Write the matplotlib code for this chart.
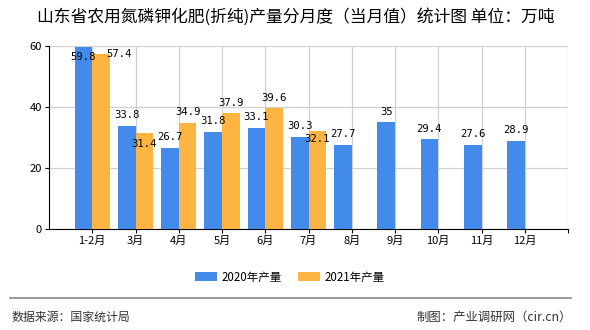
import matplotlib
matplotlib.use("Agg")
import matplotlib.pyplot as plt
import numpy as np

plt.rcParams['font.family'] = ['Noto Sans CJK SC', 'DejaVu Sans']

months = ["1-2月", "3月", "4月", "5月", "6月", "7月", "8月", "9月", "10月", "11月", "12月"]
v2020 = [59.8, 33.8, 26.7, 31.8, 33.1, 30.3, 27.7, 35, 29.4, 27.6, 28.9]
v2021 = [57.4, 31.4, 34.9, 37.9, 39.6, 32.1]
labels2020 = ["59.8", "33.8", "26.7", "31.8", "33.1", "30.3", "27.7", "35", "29.4", "27.6", "28.9"]
labels2021 = ["57.4", "31.4", "34.9", "37.9", "39.6", "32.1"]

# label nudges (points) where the original moved labels to avoid overlap
dy2020 = [-11, 4, 4, 4, 4, 4, 4, 4, 4, 4, 4]
dy2021 = [-4, -11, 4, 4, 4, -9]
dx2021 = [13, 0, 0, 0, 0, 0]

blue = "#428bea"
orange = "#fdb443"

fig = plt.figure(figsize=(5.9, 3.3), dpi=100)
ax = fig.add_axes([49 / 590, 1 - 229 / 330, 519 / 590, 183 / 330])

x = np.arange(len(months))
w = 0.41
ax.bar(x[:len(v2020)] - w / 2, v2020, w, color=blue, label="2020年产量", zorder=3)
ax.bar(x[:len(v2021)] + w / 2, v2021, w, color=orange, label="2021年产量", zorder=3)

for i, v in enumerate(v2020):
    ax.annotate(labels2020[i], (x[i] - w / 2, v), xytext=(0, dy2020[i]), textcoords="offset points",
                ha="center", va="bottom", fontsize=7.6, family=["DejaVu Sans Mono"], zorder=4)
for i, v in enumerate(v2021):
    ax.annotate(labels2021[i], (x[i] + w / 2, v), xytext=(dx2021[i], dy2021[i]), textcoords="offset points",
                ha="center", va="bottom", fontsize=7.6, family=["DejaVu Sans Mono"], zorder=4)

ax.set_xlim(-1, 11)
ax.set_ylim(0, 60)
ax.set_yticks([0, 20, 40, 60])
ax.set_xticks(list(x) + [11])
ax.set_xticklabels(months + [""])
ax.tick_params(axis="both", labelsize=8, length=3, color="black", pad=2)
ax.grid(True, color="#d0d0d0", linewidth=0.9, zorder=0)
for s in ["top", "right"]:
    ax.spines[s].set_visible(False)
ax.spines["left"].set_color("black")
ax.spines["bottom"].set_color("black")

fig.text(37 / 590, 1 - 17 / 330, "山东省农用氮磷钾化肥(折纯)产量分月度（当月值）统计图 单位：万吨",
         fontsize=12.1, ha="left", va="center")

fig.legend(loc="center", bbox_to_anchor=(290 / 590, 1 - 277 / 330), ncol=2, frameon=False,
           fontsize=8.3, handlelength=1.9, handleheight=0.75, handletextpad=0.4, columnspacing=1.4)

fig.add_artist(plt.Line2D([10 / 590, 571 / 590], [1 - 298 / 330] * 2, color="#888888", linewidth=1.2))
fig.text(12 / 590, 1 - 317 / 330, "数据来源：国家统计局", fontsize=8.6, ha="left", va="center", color="#333333")
fig.text(572 / 590, 1 - 317 / 330, "制图：产业调研网（cir.cn）", fontsize=8.9, ha="right", va="center", color="#333333")

fig.savefig("out.png", dpi=100)
